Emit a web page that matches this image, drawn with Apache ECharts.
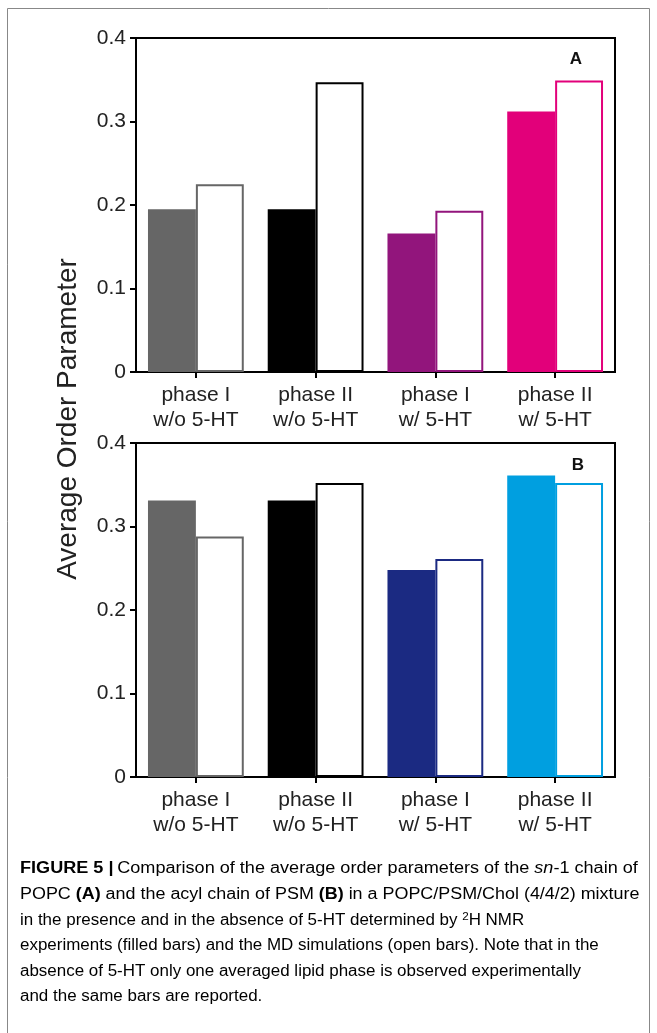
<!DOCTYPE html>
<html><head><meta charset="utf-8">
<script src="https://cdn.jsdelivr.net/npm/echarts@6/dist/echarts.min.js"></script>
<style>html,body{margin:0;padding:0;background:#fff}#c{width:657px;height:1033px}</style>
</head><body><div id="c"></div>
<script>
const categories = ['phase I\nw/o 5-HT', 'phase II\nw/o 5-HT', 'phase I\nw/ 5-HT', 'phase II\nw/ 5-HT'];
const yTicks = [0, 0.1, 0.2, 0.3, 0.4];
// Panel A: POPC sn-1 chain
const A_nmr = [0.195, 0.195, 0.166, 0.312];
const A_md  = [0.225, 0.347, 0.193, 0.349];
// Panel B: PSM acyl chain
const B_nmr = [0.331, 0.331, 0.248, 0.361];
const B_md  = [0.288, 0.352, 0.261, 0.352];

const colorsA = ['#666666', '#000000', '#92157c', '#e2007a'];
const colorsB = ['#666666', '#000000', '#1b2a82', '#009fe0'];

const FONT = 'Liberation Sans, Arial, sans-serif';
const chart = echarts.init(document.getElementById('c'), null, {renderer: 'canvas'});

function filled(vals, cols) {
  return vals.map((v, i) => ({value: v, itemStyle: {color: cols[i]}}));
}
function open(vals, cols) {
  return vals.map((v, i) => ({value: v, itemStyle: {color: '#ffffff', borderColor: cols[i], borderWidth: 2}}));
}

const grids = [
  {left: 136, width: 479, top: 38, height: 334, show: true, borderColor: '#000', borderWidth: 2, backgroundColor: 'transparent'},
  {left: 136, width: 479, top: 443, height: 334, show: true, borderColor: '#000', borderWidth: 2, backgroundColor: 'transparent'}
];
function xAx(gi) {
  return {type: 'category', gridIndex: gi, data: categories,
    axisLine: {show: true, lineStyle: {color: '#000', width: 2}},
    axisTick: {show: true, alignWithLabel: true, length: 6, lineStyle: {color: '#000', width: 2}},
    axisLabel: {color: '#222', fontFamily: FONT, fontSize: 21, lineHeight: 25, margin: 11, interval: 0},
    splitLine: {show: false}};
}
function yAx(gi) {
  return {type: 'value', gridIndex: gi, min: yTicks[0], max: yTicks[yTicks.length - 1], interval: 0.1,
    axisLine: {show: true, lineStyle: {color: '#000', width: 2}},
    axisTick: {show: true, length: 6, lineStyle: {color: '#000', width: 2}},
    axisLabel: {color: '#222', fontFamily: FONT, fontSize: 21, margin: 10},
    splitLine: {show: false}};
}
function bars(gi, data, z) {
  return {type: 'bar', xAxisIndex: gi, yAxisIndex: gi, data: data, barWidth: '40%', barGap: '0%', z: z, silent: true};
}

const capLines = [
  '{b|FIGURE 5 |} {n|Comparison of the average order parameters of the }{i|sn}{n|-1 chain of}',
  '{n|POPC }{b|(A)}{n| and the acyl chain of PSM }{b|(B)}{n| in a POPC/PSM/Chol (4/4/2) mixture}',
  '{n|in the presence and in the absence of 5-HT determined by }{s|2}{n|H NMR}',
  '{n|experiments (filled bars) and the MD simulations (open bars). Note that in the}',
  '{n|absence of 5-HT only one averaged lipid phase is observed experimentally}',
  '{n|and the same bars are reported.}'
];
const capScale = [1.13, 1.12, 1.06, 1.06, 1.06, 1.06];
const capSize = 16;
const rich = {
  n: {fontFamily: FONT, fontSize: capSize, color: '#333'},
  b: {fontFamily: FONT, fontSize: capSize, color: '#222', fontWeight: 'bold'},
  i: {fontFamily: FONT, fontSize: capSize, color: '#333', fontStyle: 'italic'},
  s: {fontFamily: FONT, fontSize: 11, color: '#333', verticalAlign: 'top', padding: [0, 0, 6, 0]}
};
const graphics = [
  {type: 'rect', shape: {x: 7.5, y: 8.5, width: 642, height: 1040}, style: {fill: 'none', stroke: '#888', lineWidth: 1}},
  {type: 'text', x: 68, y: 419, rotation: Math.PI / 2, style: {text: 'Average Order Parameter', fontFamily: FONT, fontSize: 28, fill: '#222', align: 'center', verticalAlign: 'middle'}},
  {type: 'text', x: 576, y: 59, style: {text: 'A', fontFamily: FONT, fontSize: 17, fontWeight: 'bold', fill: '#111', align: 'center', verticalAlign: 'middle'}},
  {type: 'text', x: 578, y: 465, style: {text: 'B', fontFamily: FONT, fontSize: 17, fontWeight: 'bold', fill: '#111', align: 'center', verticalAlign: 'middle'}}
];
capLines.forEach((t, k) => {
  graphics.push({type: 'text', x: 20, y: 869 + k * 25.6, scaleX: capScale[k], style: {text: t, rich: rich, verticalAlign: 'middle', align: 'left'}});
});

chart.setOption({
  animation: false,
  backgroundColor: '#fff',
  grid: grids,
  xAxis: [xAx(0), xAx(1)],
  yAxis: [yAx(0), yAx(1)],
  series: [
    bars(0, filled(A_nmr, colorsA), 2), bars(0, open(A_md, colorsA), 2),
    bars(1, filled(B_nmr, colorsB), 2), bars(1, open(B_md, colorsB), 2)
  ],
  graphic: graphics
});
</script></body></html>
